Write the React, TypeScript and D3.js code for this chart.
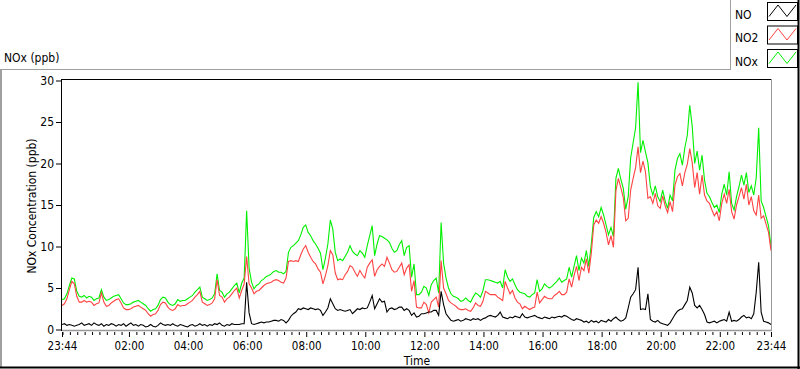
import React, { useEffect, useRef } from 'react';
import * as d3 from 'd3';

// readings every 5 minutes, starting 23:44 and running 24 hours
const noValues = [
  0.6, 0.7, 0.5, 0.6, 0.5, 0.4, 0.5, 0.6, 0.8, 0.5, 0.6, 0.7,
  0.5, 0.8, 0.6, 0.5, 0.7, 0.4, 0.6, 0.5, 0.7, 0.6, 0.4, 0.6,
  0.5, 0.7, 0.4, 0.6, 0.8, 0.5, 0.6, 0.4, 0.6, 0.5, 0.3, 0.4,
  0.6, 0.4, 0.3, 0.5, 0.8, 0.6, 0.5, 0.6, 0.5, 0.7, 0.5, 0.4,
  0.6, 0.5, 0.4, 0.3, 0.5, 0.6, 0.4, 0.5, 0.7, 0.5, 0.6, 0.4,
  0.6, 0.5, 0.7, 0.6, 0.8, 0.5, 0.4, 0.6, 0.5, 0.7, 0.6, 0.6,
  0.6, 0.7, 0.7, 5.7, 2.0, 0.7, 0.6, 0.7, 0.8, 0.9, 0.8, 0.9,
  0.9, 1.0, 1.1, 1.1, 1.0, 1.2, 1.1, 0.8, 1.1, 1.6, 1.9, 2.1,
  2.5, 2.4, 2.6, 2.5, 2.4, 2.6, 2.5, 2.4, 2.5, 2.3, 1.7, 2.1,
  2.6, 3.7, 3.1, 2.5, 2.3, 2.4, 2.3, 2.2, 2.3, 2.4, 1.9, 2.2,
  2.5, 2.4, 2.6, 2.5, 2.6, 3.3, 4.1, 2.5, 3.1, 3.7, 3.3, 3.4,
  2.1, 2.5, 2.6, 2.4, 2.5, 2.7, 2.7, 2.3, 2.5, 2.3, 1.7, 2.0,
  1.5, 1.6, 1.9, 1.9, 2.0, 2.1, 2.1, 2.3, 2.3, 1.7, 4.6, 3.0,
  1.9, 1.5, 1.1, 1.0, 1.1, 1.2, 1.0, 1.1, 1.3, 1.2, 1.1, 1.3,
  1.2, 1.3, 1.1, 1.3, 1.4, 1.6, 1.7, 1.6, 1.5, 1.7, 2.1, 1.5,
  1.4, 1.3, 1.5, 1.4, 1.6, 1.5, 1.4, 1.9, 1.5, 1.4, 1.5, 1.6,
  1.7, 1.5, 1.4, 1.3, 1.5, 1.4, 1.3, 1.5, 1.4, 1.5, 1.6, 1.5,
  1.7, 1.6, 1.4, 1.2, 1.1, 1.3, 1.2, 1.1, 0.9, 1.0, 0.8, 1.1,
  0.9, 1.0, 0.8, 1.1, 1.0, 0.9, 1.2, 1.0, 1.3, 1.5, 1.2, 1.0,
  1.1, 1.4, 2.6, 3.9, 4.3, 4.8, 7.5, 2.4, 2.5, 2.4, 4.3, 1.2,
  1.0, 0.9, 1.1, 0.8, 0.7, 0.6, 0.5, 0.8, 1.3, 1.8, 2.2, 2.4,
  2.5, 3.0, 3.5, 5.1, 4.4, 2.9, 2.6, 2.9, 2.4, 1.8, 0.9, 0.8,
  0.9, 1.0, 0.8, 1.0, 1.1, 1.2, 1.0, 2.1, 1.0, 1.1, 1.0, 1.2,
  1.5, 1.7, 1.4, 1.5, 1.3, 1.9, 4.5, 8.1, 2.1, 1.0, 0.9, 0.8,
  0.6,
];

const no2Values = [
  2.9, 3.1, 3.7, 4.8, 5.8, 5.5, 4.0, 3.3, 3.3, 3.5, 3.3, 3.4,
  3.3, 2.9, 3.1, 3.2, 4.4, 3.3, 2.8, 2.9, 3.2, 3.4, 3.6, 3.7,
  3.2, 2.6, 2.4, 2.4, 2.5, 2.7, 2.8, 2.9, 2.7, 2.5, 2.3, 1.9,
  1.6, 1.8, 1.9, 2.3, 3.0, 3.3, 3.2, 2.7, 2.4, 2.3, 2.5, 3.0,
  2.8, 2.9, 2.9, 3.1, 3.3, 3.5, 3.9, 4.2, 4.6, 3.3, 3.1, 2.9,
  3.0, 3.2, 3.7, 6.0, 4.1, 3.9, 3.3, 3.7, 3.9, 4.3, 4.7, 5.0,
  3.8, 4.7, 5.5, 8.8, 5.5, 5.0, 4.3, 4.6, 4.7, 5.0, 5.3, 5.5,
  5.6, 5.7, 5.9, 6.0, 5.9, 5.7, 5.6, 6.2, 8.2, 8.3, 8.2, 8.3,
  8.2, 9.0, 9.7, 10.1, 9.3, 8.7, 8.2, 7.9, 7.3, 6.9, 5.5, 6.5,
  7.7, 9.5, 9.0, 6.8, 6.0, 6.1, 6.0, 6.6, 7.0, 7.7, 7.5, 6.9,
  6.4, 7.1, 6.6, 6.2, 7.5, 8.0, 8.4, 6.4, 7.2, 7.6, 7.9, 7.6,
  8.7, 8.0, 7.2, 6.9, 7.0, 7.5, 8.0, 6.6, 7.4, 7.8, 4.6, 5.9,
  2.7, 2.6, 2.6, 3.3, 3.0, 2.0, 3.3, 3.6, 3.9, 2.7, 8.3, 5.0,
  4.3, 3.5, 3.2, 3.0, 2.8, 2.5, 2.4, 2.4, 2.5, 2.3, 2.2, 2.6,
  3.2, 2.9, 2.8, 3.4, 4.6, 4.4, 4.2, 4.2, 4.2, 3.9, 3.7, 3.5,
  5.8, 5.0, 4.3, 4.7, 3.8, 3.3, 3.1, 2.5, 2.8, 2.6, 2.4, 2.6,
  2.7, 4.5, 3.2, 3.6, 4.0, 3.8, 3.7, 3.7, 4.1, 4.3, 4.6, 4.2,
  4.2, 4.5, 6.1, 5.1, 6.5, 7.6, 5.9, 7.5, 7.1, 8.5, 6.8, 9.2,
  12.6, 13.2, 12.8, 13.6, 12.8, 11.7, 10.2, 11.3, 9.9, 16.7, 18.2, 17.1,
  15.9, 13.1, 13.4, 16.8, 18.2, 19.5, 22.0, 18.9, 20.3, 19.0, 15.8, 16.0,
  15.2, 16.4, 14.9, 14.6, 16.1, 14.9, 14.1, 15.4, 14.2, 17.4, 18.4, 18.8,
  17.3, 18.9, 19.9, 21.8, 20.1, 17.1, 18.9, 16.3, 18.6, 16.2, 15.5, 15.2,
  14.4, 13.7, 14.2, 13.1, 15.2, 16.3, 15.2, 16.9, 14.2, 13.3, 15.0, 16.0,
  17.1, 15.7, 17.5, 15.0, 16.0, 14.3, 13.8, 16.2, 13.4, 13.7, 12.7, 11.7,
  9.5,
];

const noxValues = [
  3.6, 3.7, 4.3, 5.3, 6.2, 6.1, 4.6, 4.0, 3.9, 4.1, 3.8, 4.0,
  3.9, 3.5, 3.7, 3.8, 4.8, 3.9, 3.5, 3.6, 3.8, 4.0, 4.1, 4.2,
  3.7, 3.2, 3.0, 3.0, 3.1, 3.3, 3.4, 3.5, 3.3, 3.1, 2.9, 2.5,
  2.2, 2.4, 2.5, 2.9, 3.6, 3.9, 3.8, 3.3, 3.0, 2.9, 3.1, 3.6,
  3.4, 3.5, 3.5, 3.7, 3.9, 4.1, 4.5, 4.8, 5.1, 3.9, 3.7, 3.5,
  3.6, 3.8, 4.3, 6.7, 4.7, 4.5, 3.9, 4.3, 4.5, 4.9, 5.3, 5.6,
  4.4, 5.6, 6.2, 14.3, 7.4, 5.7, 4.9, 5.3, 5.5, 5.9, 6.1, 6.4,
  6.5, 6.7, 7.0, 7.1, 6.9, 6.9, 6.7, 7.0, 9.3, 9.9, 10.1, 10.4,
  10.7, 11.4, 12.3, 12.6, 11.7, 11.3, 10.7, 10.3, 9.8, 9.2, 7.2, 8.6,
  10.3, 13.2, 12.1, 9.3, 8.3, 8.5, 8.3, 8.8, 9.3, 10.1, 9.4, 9.1,
  8.9, 9.5, 9.2, 8.7, 10.1, 11.3, 12.5, 8.9, 10.3, 11.3, 11.2, 11.0,
  10.8, 10.5, 9.8, 9.3, 9.5, 10.2, 10.7, 8.9, 9.9, 10.1, 6.3, 7.9,
  4.2, 4.2, 4.5, 5.2, 5.0, 4.1, 5.4, 5.9, 6.2, 4.4, 12.9, 8.0,
  6.2, 5.0, 4.3, 4.0, 3.9, 3.7, 3.4, 3.5, 3.8, 3.5, 3.3, 3.9,
  4.4, 4.2, 3.9, 4.7, 6.0, 6.0, 5.9, 5.8, 5.7, 5.6, 5.8, 5.0,
  7.2, 6.3, 5.8, 6.1, 5.4, 4.8, 4.5, 4.4, 4.3, 4.0, 3.9, 4.2,
  4.4, 6.0, 4.6, 4.9, 5.5, 5.2, 5.0, 5.2, 5.5, 5.8, 6.2, 5.7,
  5.9, 6.1, 7.5, 6.3, 7.6, 8.9, 7.1, 8.6, 8.0, 9.5, 7.6, 10.3,
  13.5, 14.2, 13.6, 14.7, 13.8, 12.6, 11.4, 12.3, 11.2, 18.2, 19.4, 18.1,
  17.0, 14.5, 16.0, 20.7, 22.5, 24.3, 29.8, 21.3, 22.8, 21.4, 20.1, 17.2,
  16.2, 17.3, 16.0, 15.4, 16.8, 15.5, 14.6, 16.2, 15.5, 19.2, 20.6, 21.2,
  19.8, 21.9, 23.4, 27.0, 24.5, 20.0, 21.5, 19.2, 21.0, 18.0, 16.4, 16.0,
  15.3, 14.7, 15.0, 14.1, 16.3, 17.5, 16.2, 19.0, 15.2, 14.4, 16.0, 17.2,
  18.6, 17.4, 18.9, 16.5, 17.3, 16.2, 18.3, 24.3, 15.5, 14.7, 13.6, 12.5,
  10.0,
];

const seriesNames = ['NO', 'NO2', 'NOx'];
const seriesColors = ['#000000', '#ff4343', '#00f000'];
const yTicks = [0, 5, 10, 15, 20, 25, 30];
const xTickLabels = ['23:44', '02:00', '04:00', '06:00', '08:00', '10:00', '12:00',
  '14:00', '16:00', '18:00', '20:00', '22:00', '23:44'];
const stepMinutes = 5;

const FONT = "'DejaVu Sans Condensed', 'DejaVu Sans', sans-serif";

const App = () => {
  const svgRef = useRef<SVGSVGElement>(null);

  useEffect(() => {
    const svg = d3.select(svgRef.current);
    svg.selectAll('*').remove();

    const W = 800, H = 369;
    const plot = { left: 62, right: 771, top: 80.5, bottom: 329.5 };

    const start = new Date(2024, 0, 1, 23, 44);
    const end = d3.timeMinute.offset(start, 24 * 60);

    const x = d3.scaleTime().domain([start, end]).range([plot.left, plot.right]);
    const y = d3.scaleLinear().domain([0, 30]).range([plot.bottom, plot.top]);

    svg.append('rect').attr('width', W).attr('height', H).attr('fill', '#fff');

    // outer panel frame (3d style: light top/left, dark bottom/right)
    svg.append('line').attr('x1', 0).attr('x2', 730).attr('y1', 69.5).attr('y2', 69.5).attr('stroke', '#a0a0a0');
    svg.append('line').attr('x1', 1).attr('x2', 1).attr('y1', 69).attr('y2', 368).attr('stroke', '#a0a0a0').attr('stroke-width', 2);
    svg.append('line').attr('x1', 0).attr('x2', 800).attr('y1', 367.5).attr('y2', 367.5).attr('stroke', '#000').attr('stroke-width', 2);
    svg.append('line').attr('x1', 798.5).attr('x2', 798.5).attr('y1', 0).attr('y2', 369).attr('stroke', '#000').attr('stroke-width', 2);

    // legend box
    svg.append('line').attr('x1', 730.5).attr('x2', 730.5).attr('y1', 0).attr('y2', 70).attr('stroke', '#a0a0a0');
    const legend = svg.append('g').attr('font-family', FONT).attr('font-size', 12);
    seriesNames.forEach((name, i) => {
      const top = 2.5 + i * 23.5;
      legend.append('text').attr('x', 735).attr('y', top + 16).attr('fill', '#000').text(name);
      legend.append('rect')
        .attr('x', 767.5).attr('y', top).attr('width', 30).attr('height', 18)
        .attr('fill', '#fff').attr('stroke', '#000');
      legend.append('polyline')
        .attr('points', [[769, top + 14], [778, top + 2.5], [787, top + 14], [796, top + 2.5]].map(p => p.join(',')).join(' '))
        .attr('fill', 'none').attr('stroke', seriesColors[i]);
    });

    // titles
    svg.append('text').attr('x', 4).attr('y', 62).attr('font-family', FONT).attr('font-size', 12).text('NOx (ppb)');
    svg.append('text')
      .attr('transform', `translate(35.5, 206) rotate(-90)`)
      .attr('text-anchor', 'middle').attr('font-family', FONT).attr('font-size', 12)
      .text('NOx Concentration (ppb)');
    svg.append('text').attr('x', 417).attr('y', 365).attr('text-anchor', 'middle')
      .attr('font-family', FONT).attr('font-size', 12).text('Time');

    // plot area
    svg.append('clipPath').attr('id', 'plotClip').append('rect')
      .attr('x', plot.left).attr('y', 79).attr('width', plot.right - plot.left + 1).attr('height', 252);

    const line = d3.line<number>()
      .x((d, i) => x(d3.timeMinute.offset(start, i * stepMinutes)))
      .y(d => y(d));

    const lines = svg.append('g').attr('clip-path', 'url(#plotClip)');
    [noxValues, no2Values, noValues].forEach((values, k) => {
      lines.append('path')
        .datum(values)
        .attr('d', line)
        .attr('fill', 'none')
        .attr('stroke', seriesColors[2 - k])
        .attr('stroke-width', 1.1)
        .attr('stroke-linejoin', 'miter');
    });

    // plot frame
    svg.append('line').attr('x1', plot.left - 0.5).attr('x2', plot.right + 1).attr('y1', 79.5).attr('y2', 79.5).attr('stroke', '#000');
    svg.append('line').attr('x1', plot.left - 0.5).attr('x2', plot.left - 0.5).attr('y1', 79).attr('y2', 331).attr('stroke', '#000');
    svg.append('line').attr('x1', plot.right + 0.5).attr('x2', plot.right + 0.5).attr('y1', 79).attr('y2', 331).attr('stroke', '#999');
    svg.append('line').attr('x1', plot.left).attr('x2', plot.right + 1).attr('y1', 330.5).attr('y2', 330.5).attr('stroke', '#999').attr('stroke-width', 1.5);

    // y axis
    const yAxis = d3.axisLeft(y).tickValues(yTicks).tickSize(5).tickPadding(2).tickFormat(d3.format('d'));
    const $yAxis = svg.append('g').attr('transform', `translate(${plot.left - 1},0)`).call(yAxis);
    $yAxis.select('.domain').remove();
    $yAxis.selectAll('text').attr('font-family', FONT).attr('font-size', 12).attr('fill', '#000');

    // x axis
    const majorTicks = xTickLabels.map((label, i) => {
      if (i === 0) return start;
      if (i === xTickLabels.length - 1) return end;
      const [h, m] = label.split(':').map(Number);
      return new Date(2024, 0, 2, h, m);
    });
    const majorSet = new Set(majorTicks.map(d => +d));
    const minorTicks = d3.timeMinute.every(15)!.range(start, end).filter(d => !majorSet.has(+d));

    const xMinor = d3.axisBottom(x).tickValues(minorTicks).tickSize(3).tickFormat(() => '');
    const $xMinor = svg.append('g').attr('transform', 'translate(0,332)').call(xMinor);
    $xMinor.select('.domain').remove();

    const xAxis = d3.axisBottom(x).tickValues(majorTicks).tickSize(5).tickPadding(5)
      .tickFormat((d, i) => xTickLabels[i]);
    const $xAxis = svg.append('g').attr('transform', 'translate(0,332)').call(xAxis);
    $xAxis.select('.domain').remove();
    $xAxis.selectAll('text').attr('font-family', FONT).attr('font-size', 11.5).attr('fill', '#000');
  }, []);

  return (
    <svg ref={svgRef} width={800} height={369}
      style={{ position: 'absolute', left: 0, top: 0, display: 'block' }} />
  );
};

export default App;
